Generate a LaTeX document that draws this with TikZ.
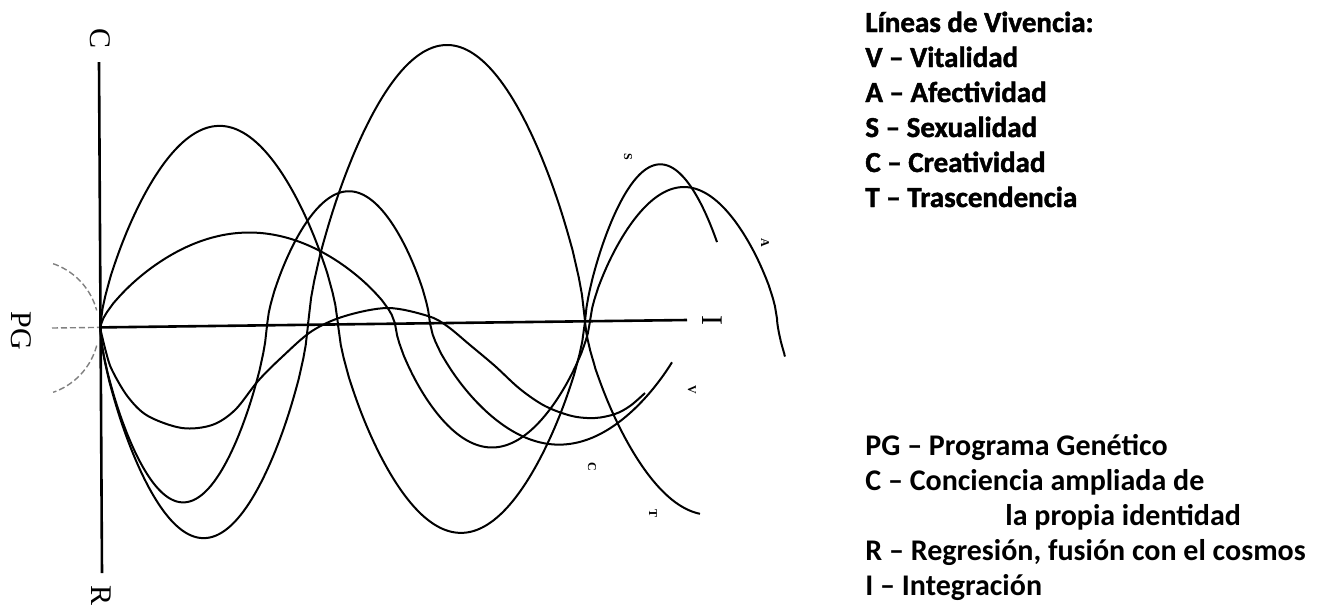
\documentclass[tikz,border=0pt]{standalone}
\usepackage{fontspec}
\setmainfont{Liberation Serif}
\newfontfamily\legfont{Carlito}
\newfontfamily\legheavy{Carlito}[BoldFeatures={FakeBold=1.5}]
\begin{document}
\begin{tikzpicture}[x=0.5pt,y=-0.5pt,
  curve/.style={line width=1pt,line join=round},
  axis/.style={line width=1.3pt},
  faint/.style={gray,line width=0.7pt,dash pattern=on 3pt off 1.5pt},
  axlabel/.style={font=\fontsize{15}{15}\selectfont,rotate=-90,inner sep=0pt},
  tiny/.style={font=\bfseries\fontsize{6}{6}\selectfont,rotate=-90,inner sep=0pt},
  leg/.style={font=\legheavy\bfseries\fontsize{14.5}{14.5}\selectfont,inner sep=0pt,anchor=base west},
  legb/.style={font=\legfont\bfseries\fontsize{15}{15}\selectfont,inner sep=0pt,anchor=base west},
  hw/.style n args={5}{insert path={-- plot[domain=#4:#5,samples=90]
     (\x,{328-0.0126*(\x-52)-(#3)*pow(abs(sin((\x-#1)/(#2-#1)*180))+0.0001,0.7)})}}
]
\useasboundingbox (0,0) rectangle (1317,607);
% axes
\coordinate (O) at (100,327.4);
\coordinate (Ctop) at (99,62);
\coordinate (Rbot) at (102,573);
\coordinate (Hl) at (52,328);
\coordinate (Hr) at (687,320);
\draw[axis] (Ctop) -- (Rbot);
\draw[axis] (O) -- (Hr);
\draw[faint] (Hl) -- (O);
% dashed arcs
\draw[faint] plot[domain=-71:-15,samples=30] ({31+68*cos(\x)},{328+68*sin(\x)});
\draw[faint] plot[domain=15:71,samples=30] ({31+68*cos(\x)},{328+68*sin(\x)});
% axis labels
\node[axlabel] (lC) at (100,38) {C};
\node[axlabel] (lPG) at (21,331) {PG};
\node[axlabel] (lR) at (101,595) {R};
\node[axlabel] (lI) at (712,320) {I};
% curves
\draw[curve] (O) [hw={100}{338}{200}{100}{338}] [hw={338}{585}{-210}{338}{585}] [hw={585}{735}{156}{585}{717}];
\draw[curve] (O) [hw={100}{395}{93}{100}{395}] [hw={395}{590}{-125}{395}{590}] [hw={590}{777}{133}{590}{777}] [hw={777}{960}{-150}{777}{785}];
\draw[curve] (O) [hw={100}{267}{-176}{100}{267}] [hw={267}{430}{133}{267}{430}] [hw={430}{690}{-123}{430}{672}];
\draw[curve] (O) [hw={100}{308}{-212}{100}{308}] [hw={308}{585}{278}{308}{585}] [hw={585}{835}{-195}{585}{700}];
\draw[curve] plot[smooth,tension=0.55] coordinates {(O) (106,352) (112,370) (128,397) (148,416) (182,428) (212,425) (235,410) (258,381) (282,357) (312,331) (345,316) (388,308) (428,316) (447,326) (470,345) (495,366) (520,389) (545,406) (572,416) (595,418) (615,414) (630,406) (645,393)};
% tiny end labels
\node[tiny] (m1) at (628,157) {S};
\node[tiny] (m2) at (765,243) {A};
\node[tiny] (m3) at (692,390) {V};
\node[tiny] (m4) at (592,467) {C};
\node[tiny] (m5) at (653,513) {T};
% legend
\node[leg] (t0) at (865,32) {Líneas de Vivencia:};
\node[leg] (t1) at (865,67) {V – Vitalidad};
\node[leg] (t2) at (865,102) {A – Afectividad};
\node[leg] (t3) at (865,137) {S – Sexualidad};
\node[leg] (t4) at (865,172) {C – Creatividad};
\node[leg] (t5) at (865,207) {T – Trascendencia};
\node[legb] (b1) at (865,455) {PG – Programa Genético};
\node[legb] (b2) at (865,490) {C – Conciencia ampliada de};
\node[legb] (b3) at (1005,525) {la propia identidad};
\node[legb] (b4) at (865,560) {R – Regresión, fusión con el cosmos};
\node[legb] (b5) at (865,595) {I – Integración};
\end{tikzpicture}
\end{document}
